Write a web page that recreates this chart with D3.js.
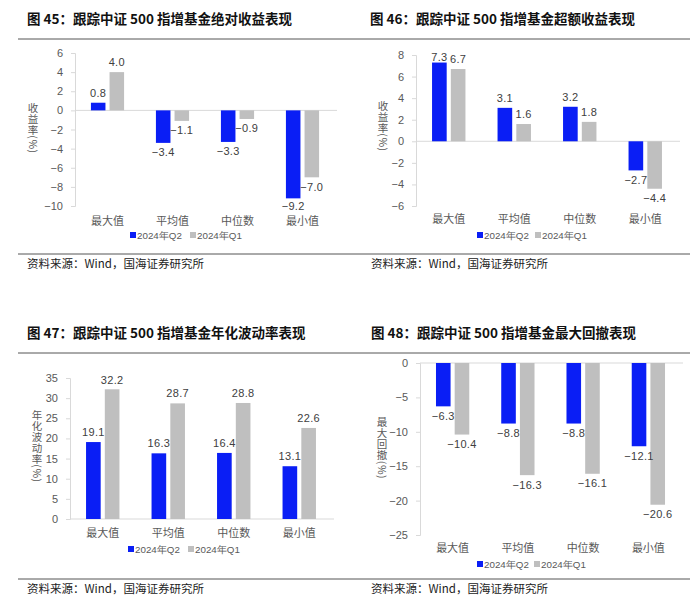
<!DOCTYPE html>
<html><head><meta charset="utf-8">
<script src="https://cdn.jsdelivr.net/npm/d3@7"></script>
<style>
body{margin:0;background:#fff;}
svg{display:block;}
text.vlab{writing-mode: vertical-rl; text-orientation: mixed;}
</style></head>
<body>
<svg id="c" width="700" height="615"></svg>
<script>
// ---- data ----
const categories = ["最大值", "平均值", "中位数", "最小值"];
const seriesNames = ["2024年Q2", "2024年Q1"];

const absQ2 = [0.8, -3.4, -3.3, -9.2];
const absQ1 = [4.0, -1.1, -0.9, -7.0];
const absTicks = [6, 4, 2, 0, -2, -4, -6, -8, -10];

const excessQ2 = [7.3, 3.1, 3.2, -2.7];
const excessQ1 = [6.7, 1.6, 1.8, -4.4];
const excessTicks = [8, 6, 4, 2, 0, -2, -4, -6];

const volQ2 = [19.1, 16.3, 16.4, 13.1];
const volQ1 = [32.2, 28.7, 28.8, 22.6];
const volTicks = [35, 30, 25, 20, 15, 10, 5, 0];

const ddQ2 = [-6.3, -8.8, -8.8, -12.1];
const ddQ1 = [-10.4, -16.3, -16.1, -20.6];
const ddTicks = [0, -5, -10, -15, -20, -25];

const titles = [
  "图 45：跟踪中证 500 指增基金绝对收益表现",
  "图 46：跟踪中证 500 指增基金超额收益表现",
  "图 47：跟踪中证 500 指增基金年化波动率表现",
  "图 48：跟踪中证 500 指增基金最大回撤表现"
];
const yLabels = ["收益率(%)", "收益率(%)", "年化波动率(%)", "最大回撤(%)"];
const sourceText = "资料来源：Wind，国海证券研究所";

// ---- style ----
const COLORS = ["#0a1ef5", "#bfbfbf"];
const CJK = "'Noto Sans CJK SC', 'Noto Sans', sans-serif";
const LAT = "'Liberation Sans', Arial, sans-serif";

const svg = d3.select("#c");

const panels = [
  {q2: absQ2, q1: absQ1, ticks: absTicks, title: titles[0], ylab: yLabels[0],
   left: 18, right: 350, titleX: 27, titleY: 24, topLine: 39,
   x0: 75, x1: 335, yTop: 53, yBot: 206, catY: 225, legY: 238, legX: [130, 190],
   botLine: 254, srcX: 27, srcY: 268, ylabX: 33, ylabY: 128},
  {q2: excessQ2, q1: excessQ1, ticks: excessTicks, title: titles[1], ylab: yLabels[1],
   left: 350, right: 690, titleX: 370, titleY: 24, topLine: 39,
   x0: 416, x1: 678, yTop: 55, yBot: 206, catY: 223, legY: 238, legX: [477, 535],
   botLine: 254, srcX: 371, srcY: 268, ylabX: 383, ylabY: 126},
  {q2: volQ2, q1: volQ1, ticks: volTicks, title: titles[2], ylab: yLabels[2],
   left: 18, right: 350, titleX: 27, titleY: 338, topLine: 353,
   x0: 70, x1: 332, yTop: 378, yBot: 519, catY: 537, legY: 552, legX: [128, 188],
   botLine: 579, srcX: 27, srcY: 593, ylabX: 37, ylabY: 446},
  {q2: ddQ2, q1: ddQ1, ticks: ddTicks, title: titles[3], ylab: yLabels[3],
   left: 350, right: 690, titleX: 371, titleY: 338, topLine: 353,
   x0: 420, x1: 681, yTop: 363, yBot: 535, catY: 552, legY: 567, legX: [477, 534],
   botLine: 579, srcX: 371, srcY: 593, ylabX: 382, ylabY: 448}
];

panels.forEach(p => {
  const g = svg.append("g");

  // title
  g.append("text").attr("x", p.titleX).attr("y", p.titleY)
    .attr("font-family", CJK).attr("font-weight", "bold").attr("font-size", 13.5)
    .attr("fill", "#111").text(p.title);
  g.append("line").attr("x1", p.left).attr("x2", p.right).attr("y1", p.topLine).attr("y2", p.topLine)
    .attr("stroke", "#555").attr("stroke-width", 1);

  const tmin = d3.min(p.ticks), tmax = d3.max(p.ticks);
  const y = d3.scaleLinear().domain([tmin, tmax]).range([p.yBot, p.yTop]);
  const x = d3.scaleBand().domain(categories).range([p.x0, p.x1]).paddingInner(0.49).paddingOuter(0.245);
  const xs = d3.scaleBand().domain(seriesNames).range([0, x.bandwidth()]).paddingInner(0.22);

  // y axis
  const ax = g.append("g").attr("transform", `translate(${p.x0},0)`)
    .call(d3.axisLeft(y).tickValues(p.ticks).tickSize(4).tickPadding(8).tickFormat(d => d < 0 ? "−" + Math.abs(d) : d));
  ax.select(".domain").attr("stroke", "#d9d9d9");
  ax.selectAll(".tick line").attr("stroke", "#d9d9d9");
  ax.selectAll(".tick text").attr("fill", "#595959").attr("font-family", LAT).attr("font-size", 11);

  // zero line
  g.append("line").attr("x1", p.x0).attr("x2", p.x1 + 2).attr("y1", y(0)).attr("y2", y(0))
    .attr("stroke", "#d9d9d9").attr("stroke-width", 1);

  const rows = [];
  categories.forEach((c, i) => {
    rows.push({c, s: seriesNames[0], v: p.q2[i], k: 0});
    rows.push({c, s: seriesNames[1], v: p.q1[i], k: 1});
  });

  g.selectAll("rect.bar").data(rows).enter().append("rect")
    .attr("x", d => x(d.c) + xs(d.s))
    .attr("width", xs.bandwidth())
    .attr("y", d => Math.min(y(0), y(d.v)))
    .attr("height", d => Math.abs(y(d.v) - y(0)))
    .attr("fill", d => COLORS[d.k]);

  g.selectAll("text.val").data(rows).enter().append("text")
    .attr("x", d => x(d.c) + xs(d.s) + xs.bandwidth() / 2)
    .attr("y", d => d.v >= 0 ? Math.max(y(d.v) - 6, p.yTop + 6) : Math.min(y(d.v) + 13.5, p.yBot + 4))
    .attr("text-anchor", "middle")
    .attr("font-family", LAT).attr("font-size", 11).attr("fill", "#404040")
    .attr("letter-spacing", 0.3)
    .text(d => (d.v < 0 ? "−" : "") + Math.abs(d.v).toFixed(1));

  // category labels
  g.selectAll("text.cat").data(categories).enter().append("text")
    .attr("x", d => x(d) + x.bandwidth() / 2).attr("y", p.catY)
    .attr("text-anchor", "middle").attr("font-family", CJK).attr("font-size", 11)
    .attr("fill", "#595959").text(d => d);

  // y label (vertical writing mode, one text element)
  g.append("text").attr("class", "vlab").attr("x", p.ylabX).attr("y", p.ylabY)
    .attr("text-anchor", "middle").attr("font-family", CJK)
    .attr("font-size", 10.5).attr("letter-spacing", 0.5).attr("fill", "#595959")
    .text(p.ylab);

  // legend
  seriesNames.forEach((s, i) => {
    g.append("rect").attr("x", p.legX[i]).attr("y", p.legY - 6).attr("width", 6).attr("height", 6)
      .attr("fill", COLORS[i]);
    g.append("text").attr("x", p.legX[i] + 7).attr("y", p.legY + 1)
      .attr("font-family", LAT).attr("font-size", 9.8).attr("fill", "#595959").text(s);
  });

  // bottom line + source
  g.append("line").attr("x1", p.left).attr("x2", p.right).attr("y1", p.botLine).attr("y2", p.botLine)
    .attr("stroke", "#555").attr("stroke-width", 1);
  g.append("text").attr("x", p.srcX).attr("y", p.srcY)
    .attr("font-family", CJK).attr("font-size", 11.5).attr("fill", "#222").text(sourceText);
});
</script>
</body></html>
